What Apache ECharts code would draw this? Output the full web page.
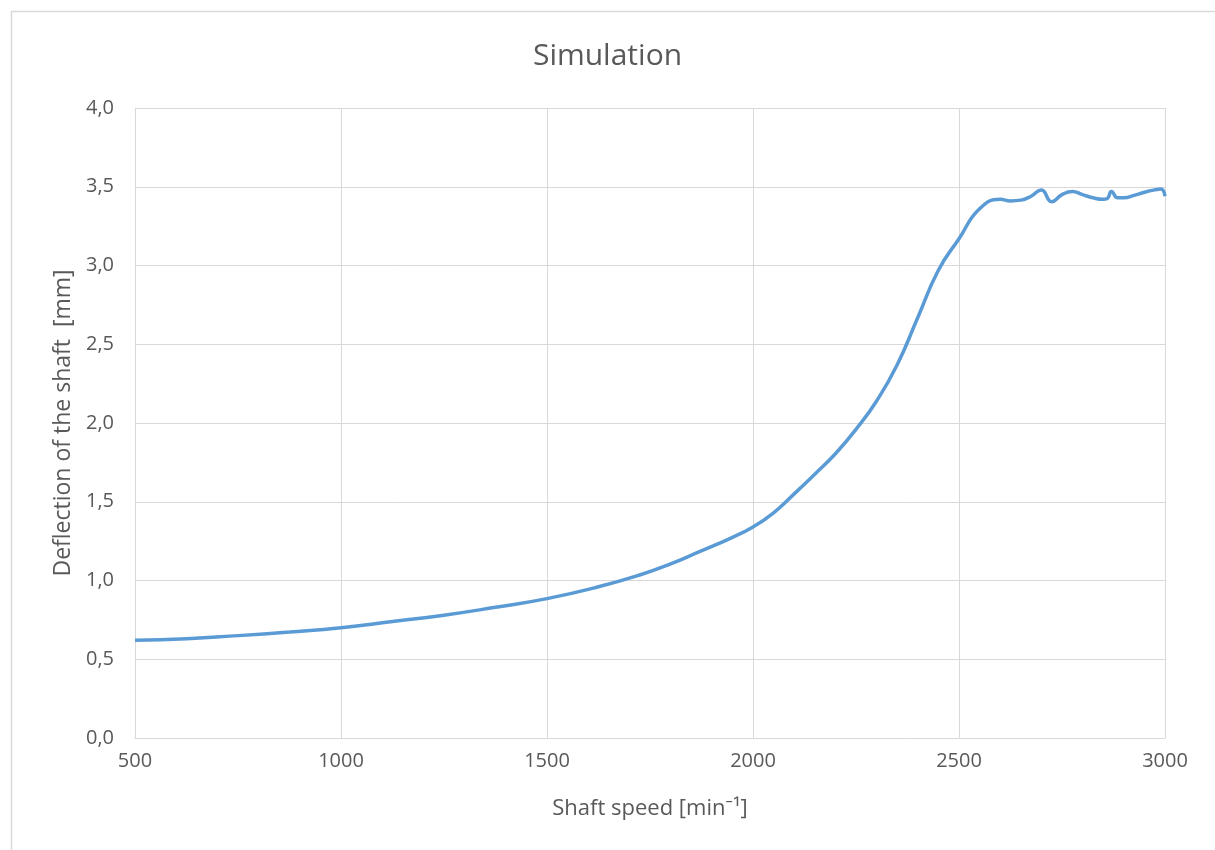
<!DOCTYPE html>
<html>
<head>
<meta charset="utf-8">
<script src="https://cdn.jsdelivr.net/npm/echarts@6/dist/echarts.min.js"></script>
<style>
html,body{margin:0;padding:0;background:#fff;}
#chart{width:1215px;height:850px;}
</style>
</head>
<body>
<div id="chart"></div>
<script>
const speeds = [500, 625, 750, 875, 1000, 1125, 1250, 1375, 1500, 1625, 1725, 1800, 1870, 1945, 2000, 2050, 2100, 2150, 2200, 2250, 2300, 2350, 2400, 2450, 2500, 2550, 2600, 2625, 2650, 2675, 2700, 2725, 2750, 2775, 2800, 2825, 2850, 2860, 2870, 2885, 2900, 2925, 2950, 2975, 2990, 3000];
const deflection = [0.62, 0.63, 0.65, 0.673, 0.70, 0.74, 0.78, 0.83, 0.885, 0.96, 1.035, 1.105, 1.183, 1.268, 1.34, 1.43, 1.55, 1.675, 1.805, 1.96, 2.14, 2.37, 2.67, 2.97, 3.17, 3.36, 3.42, 3.41, 3.415, 3.44, 3.48, 3.405, 3.45, 3.47, 3.45, 3.43, 3.42, 3.425, 3.47, 3.43, 3.43, 3.445, 3.465, 3.48, 3.485, 3.44];
const titleText = 'Simulation';
const xName = 'Shaft speed [min⁻¹]';
const yName = 'Deflection of the shaft  [mm]';

const FONT = '"Open Sans", "Noto Sans", sans-serif';
const chart = echarts.init(document.getElementById('chart'), null, {renderer: 'canvas'});
chart.setOption({
  backgroundColor: '#ffffff',
  animation: false,
  title: {
    text: titleText, left: 'center', top: 36,
    textStyle: {fontFamily: FONT, fontSize: 30, fontWeight: 'normal', color: '#595959'}
  },
  graphic: [{
    type: 'rect', left: 9, top: 9,
    shape: {width: 1230, height: 870},
    style: {fill: 'none', stroke: '#d9d9d9', lineWidth: 1.5}
  }],
  grid: {left: 135, top: 108, right: 50, bottom: 112, containLabel: false},
  xAxis: {
    type: 'value', min: 500, max: 3000, interval: 500,
    name: xName, nameLocation: 'middle', nameGap: 60,
    nameTextStyle: {fontFamily: FONT, fontSize: 22, color: '#595959'},
    axisLine: {show: true, lineStyle: {color: '#d9d9d9', width: 1}},
    axisTick: {show: false},
    axisLabel: {fontFamily: FONT, fontSize: 20, color: '#595959', margin: 13,
      formatter: v => String(v)},
    splitLine: {show: true, lineStyle: {color: '#d9d9d9', width: 1}}
  },
  yAxis: {
    type: 'value', min: 0, max: 4, interval: 0.5,
    name: yName, nameLocation: 'middle', nameGap: 60, nameRotate: 90,
    nameTextStyle: {fontFamily: FONT, fontSize: 23, color: '#595959'},
    axisLine: {show: true, lineStyle: {color: '#d9d9d9', width: 1}},
    axisTick: {show: false},
    axisLabel: {fontFamily: FONT, fontSize: 20, color: '#595959', margin: 21,
      formatter: v => v.toFixed(1).replace('.', ',')},
    splitLine: {show: true, lineStyle: {color: '#d9d9d9', width: 1}}
  },
  series: [{
    type: 'line',
    data: speeds.map((s, i) => [s, deflection[i]]),
    smooth: 0.5,
    showSymbol: false,
    lineStyle: {color: '#5b9bd5', width: 3.5},
    itemStyle: {color: '#5b9bd5'}
  }]
});
</script>
</body>
</html>
